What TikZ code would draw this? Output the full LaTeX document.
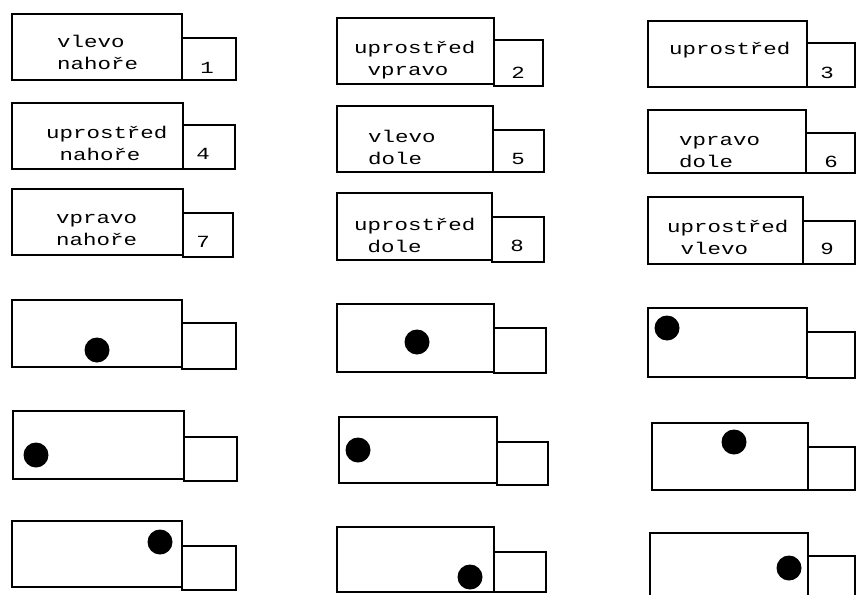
\documentclass[tikz,border=0pt]{standalone}
\usepackage{graphicx}
\usepackage{fontspec}
\newfontfamily\monofont{Liberation Mono}
\newcommand\sx[1]{\scalebox{1.32}[1]{#1}}
\newcommand\twolines[2]{\sx{\begin{tabular}[t]{@{}l@{}}#1\\#2\end{tabular}}}
\newcommand\mkbox[6]{\node[#6, anchor=north west, minimum width={#4-#2}, minimum height={#5-#3}] (#1) at (#2,#3) {};}
\begin{document}
\begin{tikzpicture}[x=1pt,y=-1pt,
  frame/.style={draw=black, line width=1.6pt, inner sep=0pt, outer sep=0pt},
  mark dot/.style={circle, fill=black, minimum size=25pt, inner sep=0pt},
  txt/.style={inner sep=0pt, font=\fontsize{17}{22}\selectfont\monofont}]
\useasboundingbox (0,0) rectangle (856,594);
\clip (0,0) rectangle (856,594);
% ---- top: text placement examples ----
\mkbox{b1}{12}{14}{182}{80}{frame}   \mkbox{s1}{182}{38}{236}{80}{frame}
\mkbox{b2}{337}{18}{494}{84}{frame}  \mkbox{s2}{494}{40}{543}{86}{frame}
\mkbox{b3}{648}{21}{807}{87}{frame}  \mkbox{s3}{807}{43}{855}{87}{frame}
\mkbox{b4}{12}{103}{183}{169}{frame} \mkbox{s4}{183}{125}{235}{169}{frame}
\mkbox{b5}{337}{106}{493}{172}{frame}\mkbox{s5}{493}{130}{544}{172}{frame}
\mkbox{b6}{648}{110}{806}{173}{frame}\mkbox{s6}{806}{133}{855}{173}{frame}
\mkbox{b7}{12}{189}{183}{255}{frame} \mkbox{s7}{183}{213}{233}{257}{frame}
\mkbox{b8}{337}{193}{492}{260}{frame}\mkbox{s8}{492}{217}{544}{262}{frame}
\mkbox{b9}{648}{197}{803}{264}{frame}\mkbox{s9}{803}{221}{855}{264}{frame}
\node[txt, anchor=base west] (t1) at (57,48)  {\twolines{vlevo}{nahoře}};
\node[txt, anchor=base west] (t2) at (354,53) {\twolines{uprostřed}{\hphantom{u}vpravo}};
\node[txt, anchor=base west] (t3) at (669,55) {\sx{uprostřed}};
\node[txt, anchor=base west] (t4) at (46,138) {\twolines{uprostřed}{\hphantom{u}nahoře}};
\node[txt, anchor=base west] (t5) at (368,142){\twolines{vlevo}{dole}};
\node[txt, anchor=base west] (t6) at (679,145){\twolines{vpravo}{dole}};
\node[txt, anchor=base west] (t7) at (56,223) {\twolines{vpravo}{nahoře}};
\node[txt, anchor=base west] (t8) at (354,230){\twolines{uprostřed}{\hphantom{u}dole}};
\node[txt, anchor=base west] (t9) at (667,232){\twolines{uprostřed}{\hphantom{u}vlevo}};
\node[txt, anchor=base] (n1) at (207,74)  {\sx{1}};
\node[txt, anchor=base] (n2) at (518,78)  {\sx{2}};
\node[txt, anchor=base] (n3) at (827,78)  {\sx{3}};
\node[txt, anchor=base] (n4) at (203,159) {\sx{4}};
\node[txt, anchor=base] (n5) at (518,164) {\sx{5}};
\node[txt, anchor=base] (n6) at (831,167) {\sx{6}};
\node[txt, anchor=base] (n7) at (203,247) {\sx{7}};
\node[txt, anchor=base] (n8) at (517,251) {\sx{8}};
\node[txt, anchor=base] (n9) at (827,254) {\sx{9}};
% ---- bottom: anchor dot examples ----
\mkbox{bA}{12}{300}{182}{367}{frame}  \mkbox{sA}{182}{323}{236}{369}{frame}
\mkbox{bB}{13}{411}{184}{479}{frame}  \mkbox{sB}{184}{437}{237}{481}{frame}
\mkbox{bC}{12}{521}{182}{587}{frame}  \mkbox{sC}{182}{546}{236}{590}{frame}
\mkbox{bD}{337}{304}{494}{372}{frame} \mkbox{sD}{494}{328}{546}{373}{frame}
\mkbox{bE}{339}{417}{497}{483}{frame} \mkbox{sE}{497}{442}{548}{485}{frame}
\mkbox{bF}{337}{527}{494}{592}{frame} \mkbox{sF}{494}{552}{546}{592}{frame}
\mkbox{bG}{648}{308}{807}{377}{frame} \mkbox{sG}{807}{332}{855}{378}{frame}
\mkbox{bH}{652}{423}{808}{490}{frame} \mkbox{sH}{808}{447}{855}{490}{frame}
\mkbox{bI}{650}{533}{808}{600}{frame} \mkbox{sI}{808}{556}{855}{600}{frame}
\node[mark dot] (dA) at (97,350)  {};
\node[mark dot] (dB) at (36,455)  {};
\node[mark dot] (dC) at (160,542) {};
\node[mark dot] (dD) at (417,342) {};
\node[mark dot] (dE) at (358,450) {};
\node[mark dot] (dF) at (470,577) {};
\node[mark dot] (dG) at (667,328) {};
\node[mark dot] (dH) at (734,442) {};
\node[mark dot] (dI) at (789,568) {};
\end{tikzpicture}
\end{document}
